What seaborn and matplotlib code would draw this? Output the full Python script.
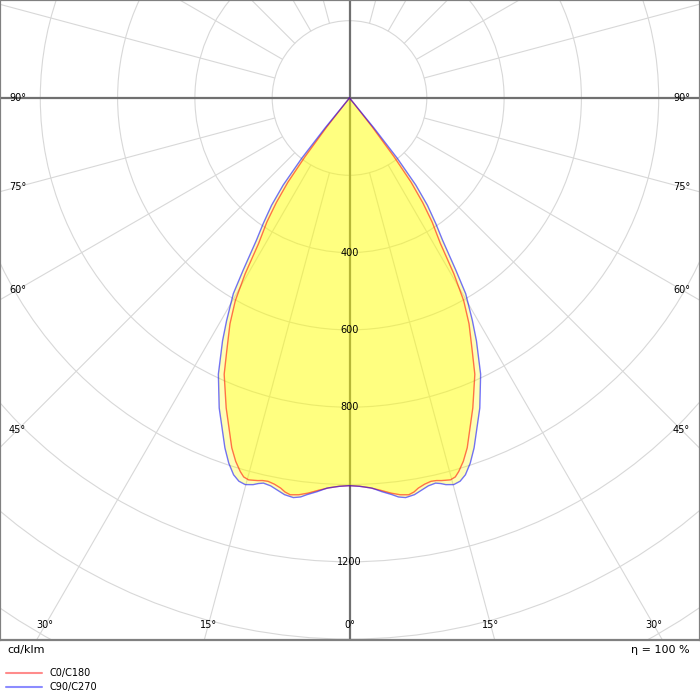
import numpy as np
import pandas as pd
import seaborn as sns
import matplotlib.pyplot as plt
from matplotlib.patches import Circle
from matplotlib.lines import Line2D

# luminous intensity (cd/klm) vs gamma angle (deg)
gamma_c0 = [0, 1.5, 3, 4.5, 6, 7.3, 8.5, 9.3, 10, 11, 12, 12.8, 13.5, 14.8, 15.6, 16.3,
            17.4, 18.6, 21.7, 24.4, 25.9, 27.9, 29.4, 30.7, 32, 33.7, 35, 36.2, 37.2,
            38.2, 39, 40]
cd_c0 = [1003, 1005, 1010, 1018, 1028, 1035, 1038, 1033, 1025, 1018, 1014, 1015, 1018,
         1022, 1018, 1007, 985, 955, 863, 785, 727, 661, 602, 529, 444, 385, 330, 270,
         190, 95, 20, 0]

gamma_c90 = [0, 1.5, 3.3, 4.7, 6.1, 7, 8, 9.3, 10.5, 11.5, 12.6, 13.3, 14, 15.1, 16.1,
             17.1, 18.3, 19.6, 22.8, 25.4, 27.6, 28.9, 30.7, 31.7, 33.2, 34.5, 36, 37.3,
             38.4, 39.2, 40]
cd_c90 = [1003, 1005, 1011, 1022, 1032, 1040, 1044, 1040, 1031, 1024, 1021, 1025, 1031,
          1036, 1032, 1020, 995, 961, 870, 791, 709, 658, 589, 524, 440, 394, 343, 283,
          199, 100, 0]

series_names = ['C0/C180', 'C90/C270']
series_colors = ['red', 'blue']
ring_labels = [400, 600, 800, 1200]
angle_labels = [0, 15, 30, 45, 60, 75, 90]

s = 200 / 77.3  # cd/klm per pixel


def to_xy(gam, cd):
    g = np.radians(np.concatenate([-np.array(gam)[::-1], np.array(gam)]))
    r = np.concatenate([np.array(cd)[::-1], np.array(cd)])
    return r * np.sin(g), -r * np.cos(g)


frames = []
for name, gam, cd in [(series_names[0], gamma_c0, cd_c0), (series_names[1], gamma_c90, cd_c90)]:
    x, y = to_xy(gam, cd)
    frames.append(pd.DataFrame({'x': x, 'y': y, 'series': name}))
df = pd.concat(frames, ignore_index=True)

sns.set_style("white")
plt.rcParams['font.family'] = ['DejaVu Sans']
plt.rcParams['text.color'] = 'black'

fig = plt.figure(figsize=(7, 7), dpi=100)
ax = fig.add_axes([0, 60 / 700, 1, 640 / 700])
ax.set_xlim(-349.5 * s, 350.5 * s)
ax.set_ylim(-542 * s, 98 * s)
ax.set_xticks([])
ax.set_yticks([])
for sp in ax.spines.values():
    sp.set_color('#808080')
    sp.set_linewidth(1.6)

grid_c = '#d8d8d8'
for rr in range(200, 2000, 200):
    ax.add_patch(Circle((0, 0), rr, fill=False, ec=grid_c, lw=0.8, zorder=1))
for a in range(0, 360, 15):
    if a % 90 == 0:
        continue
    t = np.radians(a)
    ax.plot([200 * np.sin(t), 2000 * np.sin(t)], [-200 * np.cos(t), -2000 * np.cos(t)],
            color=grid_c, lw=0.8, zorder=1)
ax.axhline(0, color='#707070', lw=1.6, zorder=1.5)
ax.axvline(0, color='#707070', lw=1.6, zorder=1.5)

for name in series_names:
    d = df[df.series == name]
    ax.fill(d.x, d.y, color='yellow', alpha=0.29, lw=0, zorder=2)

sns.lineplot(data=df, x='x', y='y', hue='series', palette=dict(zip(series_names, series_colors)),
             sort=False, estimator=None, legend=False, alpha=0.55, lw=1.0, ax=ax, zorder=3)
ax.set_xlabel('')
ax.set_ylabel('')

for v in ring_labels:
    ax.text(0, -v, str(v), ha='center', va='center', fontsize=7, color='black', zorder=4)

for a in angle_labels:
    if a >= 45:
        dx, dy = 332, 332 / np.tan(np.radians(a)) if a < 90 else 0
    else:
        dx, dy = 527 * np.tan(np.radians(a)), 527
    for sg in ([1] if a == 0 else [-1, 1]):
        ax.text(sg * dx * s, -dy * s, f'{a}°', ha='center', va='center', fontsize=7,
                color='black', zorder=4)

fig.text(7 / 700, 1 - 650 / 700, 'cd/klm', ha='left', va='center', fontsize=8, color='black')
fig.text(690 / 700, 1 - 650 / 700, 'η = 100 %', ha='right', va='center', fontsize=8, color='black')
for i, (name, c) in enumerate(zip(series_names, series_colors)):
    yy = 1 - (673 + 14 * i) / 700
    fig.add_artist(Line2D([6 / 700, 42 / 700], [yy, yy], color=c, alpha=0.45, lw=1.5,
                          transform=fig.transFigure))
    fig.text(50 / 700, yy, name, ha='left', va='center', fontsize=7, color='black')

fig.savefig('out.png', dpi=100)
